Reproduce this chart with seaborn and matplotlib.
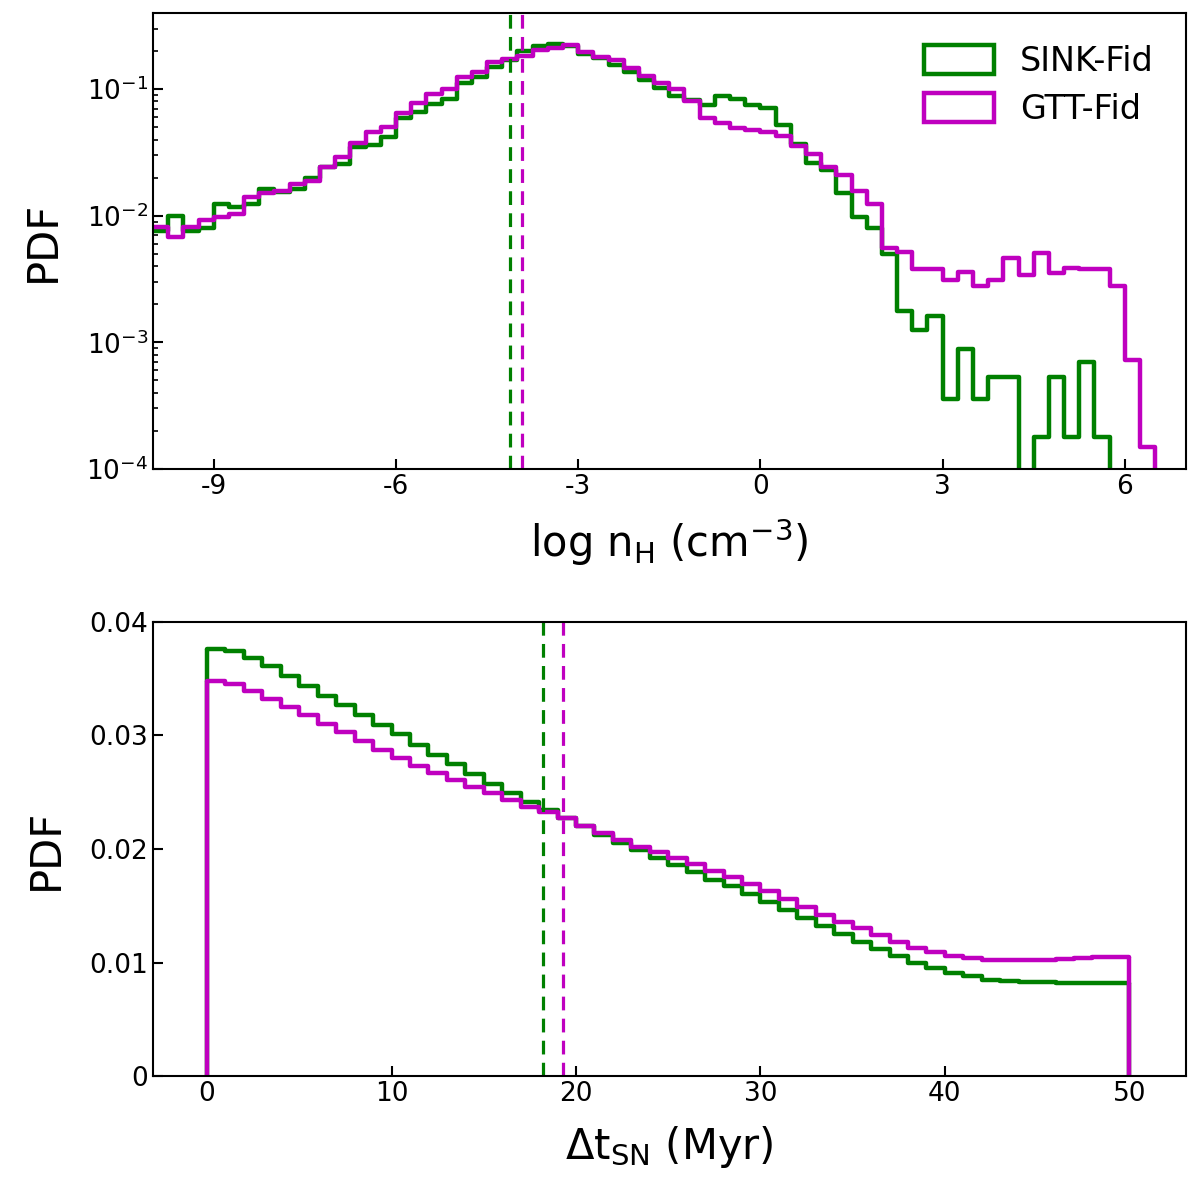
import numpy as np
import pandas as pd
import matplotlib
matplotlib.use("Agg")
import matplotlib.pyplot as plt
from matplotlib.patches import Patch
import seaborn as sns

# ---------------- data ----------------
series_labels = ["SINK-Fid", "GTT-Fid"]
series_colors = ["green", "m"]

# top panel: PDF of log n_H, bins of 0.25 dex between -10 and 7
nh_edges = np.arange(-10, 7.0001, 0.25)
sink_nh = [0.0076, 0.0100, 0.0076, 0.0080, 0.0124, 0.0118, 0.0124, 0.0164, 0.0155, 0.0164,
           0.0197, 0.0241, 0.0256, 0.0347, 0.0361, 0.0416, 0.0587, 0.0662, 0.0771, 0.0844,
           0.112, 0.126, 0.150, 0.170, 0.200, 0.218, 0.228, 0.219, 0.191, 0.178,
           0.156, 0.137, 0.118, 0.103, 0.089, 0.082, 0.075, 0.088, 0.084, 0.075,
           0.0714, 0.0525, 0.037, 0.0261, 0.0231, 0.0152, 0.0098, 0.0080, 0.0050, 0.00178,
           0.00125, 0.00160, 0.000356, 0.00089, 0.000356, 0.000536, 0.000536, 0.0, 0.000177, 0.000536,
           0.000177, 0.000705, 0.000177, 0.0, 0.0, 0.0, 0.0, 0.0]
gtt_nh = [0.0082, 0.0068, 0.0082, 0.0093, 0.0098, 0.0104, 0.0140, 0.0152, 0.0158, 0.0178,
          0.0189, 0.0244, 0.0292, 0.0377, 0.0461, 0.0505, 0.0650, 0.0780, 0.0924, 0.1013,
          0.124, 0.137, 0.164, 0.172, 0.184, 0.203, 0.211, 0.222, 0.197, 0.180,
          0.169, 0.148, 0.127, 0.112, 0.101, 0.081, 0.059, 0.054, 0.049, 0.048,
          0.0457, 0.0428, 0.0355, 0.0305, 0.0244, 0.0210, 0.0157, 0.0125, 0.0056, 0.0052,
          0.0038, 0.0038, 0.0031, 0.0036, 0.0028, 0.0031, 0.0046, 0.0034, 0.0051, 0.0035,
          0.0039, 0.0038, 0.0038, 0.0028, 0.00073, 0.00015, 0.0, 0.0]
nh_medians = [-4.12, -3.93]
nh_ticks = [-9, -6, -3, 0, 3, 6]

# bottom panel: PDF of time between SNe, 1 Myr bins from 0 to 50
dt_edges = np.arange(0, 51, 1)
sink_dt = [0.0376, 0.0374, 0.0368, 0.0361, 0.0352, 0.0344, 0.0335, 0.0327, 0.0318, 0.0309,
           0.0301, 0.0292, 0.0283, 0.0275, 0.0266, 0.0257, 0.0249, 0.0241, 0.0234, 0.0227,
           0.0220, 0.0212, 0.0205, 0.0199, 0.0192, 0.0186, 0.0180, 0.0173, 0.0167, 0.0160,
           0.0153, 0.0146, 0.0139, 0.0132, 0.0125, 0.0118, 0.0112, 0.0106, 0.0100, 0.0095,
           0.0091, 0.0088, 0.0085, 0.0084, 0.0083, 0.0083, 0.0082, 0.0082, 0.0082, 0.0082]
gtt_dt = [0.0348, 0.0345, 0.0339, 0.0332, 0.0325, 0.0318, 0.0310, 0.0303, 0.0295, 0.0287,
          0.0280, 0.0273, 0.0267, 0.0261, 0.0255, 0.0249, 0.0243, 0.0237, 0.0233, 0.0227,
          0.0220, 0.0214, 0.0208, 0.0202, 0.0197, 0.0192, 0.0187, 0.0181, 0.0175, 0.0169,
          0.0163, 0.0156, 0.0149, 0.0142, 0.0136, 0.0130, 0.0124, 0.0118, 0.0113, 0.0109,
          0.0106, 0.0104, 0.0102, 0.0102, 0.0102, 0.0102, 0.0103, 0.0104, 0.0105, 0.0105]
dt_medians = [18.2, 19.3]
dt_ticks = [0, 10, 20, 30, 40, 50]
dt_yticks = [0, 0.01, 0.02, 0.03, 0.04]
dt_yticklabels = ["0", "0.01", "0.02", "0.03", "0.04"]

# ---------------- style ----------------
sns.set_style("ticks")
plt.rcParams.update({
    "font.family": ["DejaVu Sans"],
    "axes.unicode_minus": False,
    "axes.linewidth": 1.5,
    "axes.edgecolor": "black",
    "axes.labelcolor": "black",
    "text.color": "black",
    "xtick.color": "black", "ytick.color": "black",
    "xtick.direction": "in", "ytick.direction": "in",
    "xtick.major.size": 7, "ytick.major.size": 7,
    "xtick.minor.size": 3.5, "ytick.minor.size": 3.5,
    "xtick.major.width": 1.5, "ytick.major.width": 1.5,
    "xtick.minor.width": 1.2, "ytick.minor.width": 1.2,
    "xtick.labelsize": 19, "ytick.labelsize": 19,
    "axes.labelsize": 30,
})

LW = 3.2
fig = plt.figure(figsize=(12, 11.84), dpi=100)
ax1 = fig.add_axes([0.1275, 0.604, 0.8605, 0.385])
ax2 = fig.add_axes([0.1275, 0.0912, 0.8605, 0.3835])


def draw_hist(ax, edges, values, color, ends=False):
    edges = [float(e) for e in edges]
    centers = [0.5 * (a + b) for a, b in zip(edges[:-1], edges[1:])]
    df = pd.DataFrame({"x": centers, "w": values})
    sns.histplot(data=df, x="x", weights="w", bins=edges, element="step",
                 fill=False, color=color, linewidth=LW, ax=ax)
    if ends:
        ax.vlines([edges[0], edges[-1]], 0, [values[0], values[-1]],
                  color=color, linewidth=LW)


# top panel
for vals, col in zip([sink_nh, gtt_nh], series_colors):
    draw_hist(ax1, nh_edges, vals, col)
for med, col in zip(nh_medians, series_colors):
    ax1.axvline(med, color=col, linewidth=2.3, linestyle=(0, (4.3, 2.6)))
ax1.set_yscale("log")
ax1.set_xlim(-10, 7)
ax1.set_ylim(1e-4, 0.4)
ax1.set_xticks(nh_ticks)
ax1.set_xticklabels([str(t) for t in nh_ticks])
ax1.set_xlabel(r"log n$_{\rm H}$ (cm$^{-3}$)", labelpad=12)
ax1.set_ylabel("PDF", labelpad=16)
handles = [Patch(facecolor="none", edgecolor=c, linewidth=LW) for c in series_colors]
ax1.legend(handles, series_labels, loc="upper right", frameon=False, fontsize=24,
           handlelength=2.1, handleheight=0.95, handletextpad=0.8, borderaxespad=0.55,
           borderpad=0.4, labelspacing=0.45)

# bottom panel
for vals, col in zip([sink_dt, gtt_dt], series_colors):
    draw_hist(ax2, dt_edges, vals, col, ends=True)
for med, col in zip(dt_medians, series_colors):
    ax2.axvline(med, color=col, linewidth=2.3, linestyle=(0, (4.3, 2.6)))
ax2.set_xlim(-2.93, 53.05)
ax2.set_ylim(0, 0.04)
ax2.set_xticks(dt_ticks)
ax2.set_yticks(dt_yticks)
ax2.set_yticklabels(dt_yticklabels)
ax2.set_xlabel(r"$\Delta$t$_{\rm SN}$ (Myr)", labelpad=12)
ax2.set_ylabel("PDF", labelpad=16)

for ax in (ax1, ax2):
    for s in ax.spines.values():
        s.set_visible(True)
        s.set_linewidth(1.5)
        s.set_color("black")
    ax.tick_params(which="both", top=False, right=False, colors="black")

fig.savefig("out.png", dpi=100)
